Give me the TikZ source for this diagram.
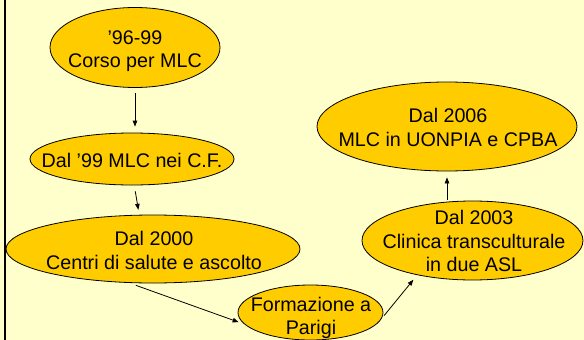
\documentclass[tikz,border=0pt]{standalone}
\usepackage{fontspec}
\setmainfont{Liberation Sans}
\usetikzlibrary{shapes.geometric,arrows.meta}
\definecolor{bgc}{RGB}{255,255,204}
\definecolor{bubc}{RGB}{255,204,0}
\tikzset{
  bub/.style={ellipse, draw=black, line width=0.8pt, fill=bubc, inner sep=0pt},
  txt/.style={align=center, inner sep=0pt, font=\fontsize{19.7}{23.3}\selectfont},
  arr/.style={-{Triangle[length=6pt,width=4.5pt]}, line width=0.8pt}
}
\begin{document}
\begin{tikzpicture}[x=1pt,y=-1pt]
\fill[bgc] (0,0) rectangle (584,340);
\useasboundingbox (0,0) rectangle (584,340);
\fill[black] (4,0) rectangle (6,340);
% ellipses
\node[bub, minimum width=170, minimum height=80] (e1) at (135,47.5) {};
\node[bub, minimum width=204, minimum height=52] (e2) at (132,159) {};
\node[bub, minimum width=294, minimum height=68] (e3) at (153,249) {};
\node[bub, minimum width=145, minimum height=55] (e4) at (310.5,312.5) {};
\node[bub, minimum width=221, minimum height=79] (e5) at (472.5,240.5) {};
\node[bub, minimum width=260, minimum height=89] (e6) at (447,126.5) {};
% texts
\node[txt] (t1) at (135,51) {’96-99\\Corso per MLC};
\node[txt] (t2) at (132,160) {Dal ’99 MLC nei C.F.};
\node[txt] (t3) at (154,250.5) {Dal 2000\\Centri di salute e ascolto};
\node[txt] (t4) at (311,318) {Formazione a\\Parigi};
\node[txt] (t5) at (474,241) {Dal 2003\\Clinica transculturale\\in due ASL};
\node[txt] (t6) at (448,127.5) {Dal 2006\\MLC in UONPIA e CPBA};
% arrows
\draw[arr, shorten <=5pt, shorten >=6pt] (e1.south) -- (e1.south |- e2.north);
\draw[arr, shorten <=6pt, shorten >=5pt] (e2.-85) -- (e3.112);
\draw[arr, shorten <=7pt, shorten >=6pt] (e3.-125) -- (e4.190);
\draw[arr, shorten <=4pt, shorten >=6pt] (e4.-5) -- (e5.-148);
\draw[arr, shorten <=1pt, shorten >=6pt] (e5.north -| e6.south) -- (e6.south);
\end{tikzpicture}
\end{document}
